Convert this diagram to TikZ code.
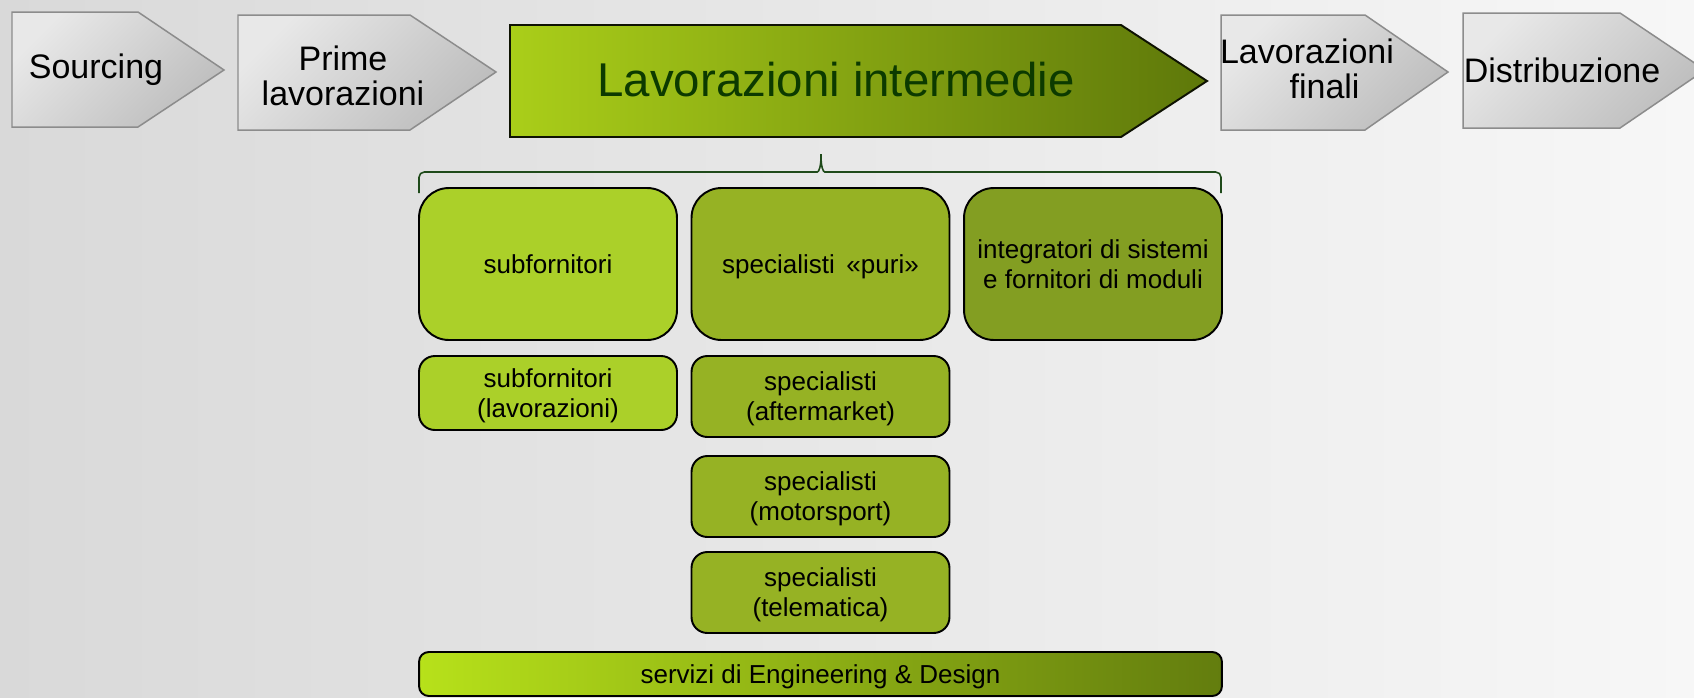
\documentclass[tikz,border=0pt]{standalone}
\usepackage{fontspec}
\setmainfont{Liberation Sans}
\usepackage{tikz}

\definecolor{bglo}{HTML}{D9D9D9}
\definecolor{bghi}{HTML}{F7F7F7}
\definecolor{grylt}{HTML}{E8E8E8}
\definecolor{grydk}{HTML}{BDBDBD}
\definecolor{gryln}{HTML}{8C8C8C}
\definecolor{limelt}{HTML}{ABD029}
\definecolor{limemd}{HTML}{96B224}
\definecolor{limedk}{HTML}{839E22}
\definecolor{olvlt}{HTML}{AACE19}
\definecolor{olvdk}{HTML}{5E780A}
\definecolor{barlt}{HTML}{B7E11A}
\definecolor{bardk}{HTML}{637D0E}
\definecolor{txtgrn}{HTML}{0C3A00}
\definecolor{brcgrn}{HTML}{1F4A1A}

\tikzset{
  stage/.style={draw=gryln, line width=0.85pt, top color=grylt, bottom color=grydk, shading angle=45},
  stagetxt/.style={font=\fontsize{19.35}{20}\selectfont, align=center},
  seg/.style={draw=black, line width=1.1pt, rounded corners=17pt, minimum width=5.16cm, minimum height=3.04cm,
    inner sep=0pt, text depth=0pt, font=\fontsize{14.8}{17.1}\selectfont, align=center},
  subseg/.style={seg, rounded corners=9pt, minimum height=1.62cm},
  brace/.style={draw=brcgrn, line width=0.9pt, rounded corners=3pt}
}

\begin{document}
\begin{tikzpicture}[x=0.02cm,y=-0.02cm]
\useasboundingbox (0,0) rectangle (1694,697);
\shade[left color=bglo, right color=bghi] (0,0) rectangle (1694,697);

% filiera
\path[stage] (12,12) -- (138,12) -- (224,70) -- (138,127) -- (12,127) -- cycle;
\path[stage] (238,15) -- (410,15) -- (496,72) -- (410,130) -- (238,130) -- cycle;
\path[draw=black!85!olvdk, line width=1.1pt, left color=olvlt, right color=olvdk] (510,25) -- (1121,25) -- (1207,81) -- (1121,137) -- (510,137) -- cycle;
\path[stage] (1221,15) -- (1365,15) -- (1448,72) -- (1365,130) -- (1221,130) -- cycle;
\path[stage] (1463,13) -- (1620,13) -- (1705,70) -- (1620,128) -- (1463,128) -- cycle;

\node[stagetxt] (src) at (96,70) {Sourcing};
\node[stagetxt] (prime) at (343,76) {Prime\\lavorazioni};
\node[font=\fontsize{27}{30}\selectfont, text=txtgrn] (inter) at (836,80) {Lavorazioni intermedie};
\node[stagetxt] (fin) at (1307,69) {Lavorazioni\\\hspace*{20pt}finali};
\node[stagetxt] (distr) at (1562,70) {Distribuzione};

% graffa
\path[brace] (419,193) -- (419,172) -- (812,172) .. controls (819,172) and (821,166) .. (821,151)
  .. controls (821,166) and (823,172) .. (830,172) -- (1221,172) -- (1221,193);

% segmenti
\node[seg, fill=limelt] (subf) at (548,264) {subfornitori};
\node[seg, fill=limemd] (spec) at (820.5,264) {specialisti \,«puri»};
\node[seg, fill=limedk] (integ) at (1093,264) {integratori di sistemi\\e fornitori di moduli};

\node[subseg, fill=limelt, minimum height=1.48cm] (subflav) at (548,393) {subfornitori\\(lavorazioni)};
\node[subseg, fill=limemd] (specaft) at (820.5,396.5) {specialisti\\(aftermarket)};
\node[subseg, fill=limemd] (specmot) at (820.5,496.5) {specialisti\\(motorsport)};
\node[subseg, fill=limemd] (spectel) at (820.5,592.5) {specialisti\\(telematica)};

\node[seg, rounded corners=5.5pt, minimum width=16.06cm, minimum height=0.88cm, left color=barlt, right color=bardk] (serv) at (820.5,674) {servizi di Engineering \& Design};
\end{tikzpicture}
\end{document}
